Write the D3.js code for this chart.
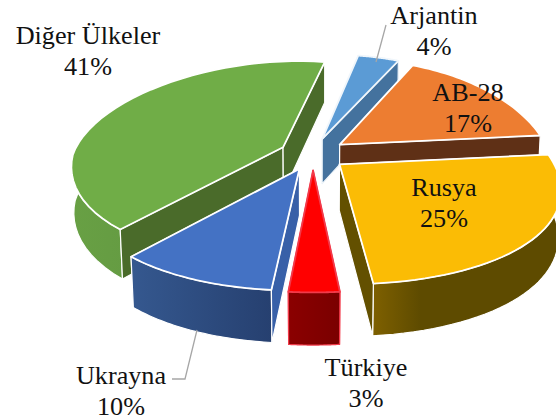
<!DOCTYPE html>
<html><head><meta charset="utf-8">
<script src="https://cdn.jsdelivr.net/npm/d3@7"></script>
<style>html,body{margin:0;padding:0;background:#fff;overflow:hidden}svg{display:block}text{font-family:"Liberation Serif",serif;font-size:26.2px;fill:#111;text-anchor:middle}</style>
</head><body><svg id="c" width="556" height="420"></svg>
<script>
const categories = ["Rusya","Türkiye","Ukrayna","Diğer Ülkeler","Arjantin","AB-28"];
const values = [25,3,10,41,4,17];
const topColors = ["#FBBC05","#FF0000","#4472C4","#70AD47","#5B9BD5","#ED7D31"];
const cutColors = ["#635000","#8B0000","#3860A8","#4A6B2A","#44729E","#5F3016"];
const wallStart = ["#7E6000","#8B0000","#35588F","#68A044","#44729E","#5F3016"];
const wallEnd = ["#5E4B00","#7A0000","#264070","#5A8C3D","#44729E","#5F3016"];
const edgeColors = ["#fff","#F23A4A","#fff","#fff","#F0F6FB","#fff"];
const drawOrder = ["Arjantin","AB-28","Diğer Ülkeler","Ukrayna","Rusya","Türkiye"];
const labelX = [444,366,121,88,434,468];
const labelY = [196,376,384,44,24,101];

const cx=313, cy=154, R=210, tilt=0.476, perspX=0.216, perspY=0.14, depth=46, explode=0.16, depthPersp=0.01, backShift=9, frontLeftShift=10;
const svg=d3.select("#c");
const defs=svg.append("defs");
const rad=d=>d*Math.PI/180;
const project=(u,v,z)=>{
  const wx=1-perspX*v+depthPersp*z, wy=1-perspY*v+depthPersp*z;
  const warp=(v<0?backShift*v*v:0)+frontLeftShift*Math.max(0,v)*Math.max(0,-u);
  return [cx+warp+R*u/wx, cy+(R*tilt*v+depth*z)/wy];
};
const pie=d3.pie().sort(null).startAngle(rad(84.5)).endAngle(rad(444.5));
const arcs=pie(values);
const line=d3.line();
const pts=(a)=>{const t=a-Math.PI/2;return [Math.cos(t),Math.sin(t)];};

const slices=arcs.map((a,i)=>{
  const mid=(a.startAngle+a.endAngle)/2,[mx,my]=pts(mid);
  const ox=mx*explode, oy=my*explode;
  const rim=d3.range(0,41).map(k=>{const [u,v]=pts(a.startAngle+(a.endAngle-a.startAngle)*k/40);return [ox+u,oy+v];});
  return {i,ox,oy,rim};
});

drawOrder.forEach(name=>{
  const i=categories.indexOf(name), s=slices[i];
  const g=svg.append("g");
  const P=z=>s.rim.map(p=>project(p[0],p[1],z));
  const top=P(0), bot=P(1);
  const a0=project(s.ox,s.oy,0), a1=project(s.ox,s.oy,1);
  const stroke=edgeColors[i];
  const xs=top.map(p=>p[0]);
  const gid="g"+i;
  const gr=defs.append("linearGradient").attr("id",gid).attr("gradientUnits","userSpaceOnUse")
    .attr("x1",d3.min(xs)).attr("x2",d3.max(xs)).attr("y1",0).attr("y2",0);
  gr.append("stop").attr("offset",0).attr("stop-color",wallStart[i]);
  gr.append("stop").attr("offset",i===0?0.25:1).attr("stop-color",wallEnd[i]);
  if(i===0) gr.append("stop").attr("offset",1).attr("stop-color",wallEnd[i]);
  const midPt=top[20];
  const faces=(j)=>{
    const t=top[j],d=[t[0]-a0[0],t[1]-a0[1]],m=[midPt[0]-a0[0],midPt[1]-a0[1]];
    const c1=d[0]*m[1]-d[1]*m[0], c2=d[0];
    return c1*c2<0;
  };
  const cut=(j)=>g.append("path").attr("d",line([a0,top[j],bot[j],a1])+"Z")
     .attr("fill",cutColors[i]).attr("stroke",stroke).attr("stroke-width",1.2).attr("stroke-linejoin","round");
  const ends=[0,top.length-1];
  ends.filter(j=>!faces(j)).forEach(cut);
  g.append("path").attr("d",line(top.concat(bot.slice().reverse()))+"Z")
     .attr("fill",`url(#${gid})`).attr("stroke",stroke).attr("stroke-width",1.2).attr("stroke-linejoin","round");
  ends.filter(faces).forEach(cut);
  g.append("path").attr("d",line([a0].concat(top))+"Z")
     .attr("fill",topColors[i]).attr("stroke",stroke).attr("stroke-width",1.8).attr("stroke-linejoin","round");
});

const leaderA=[[376,62],[386,25]], leaderU=[[197,330],[185,379],[172,379]];
[leaderA,leaderU].forEach(l=>svg.append("path").attr("d",line(l)).attr("fill","none").attr("stroke","#A6A6A6").attr("stroke-width",1.3));

const total=d3.sum(values);
categories.forEach((c,i)=>{
  svg.append("text").attr("x",labelX[i]).attr("y",labelY[i]).text(c);
  svg.append("text").attr("x",labelX[i]).attr("y",labelY[i]+30.5).text(d3.format(".0%")(values[i]/total));
});
</script></body></html>
